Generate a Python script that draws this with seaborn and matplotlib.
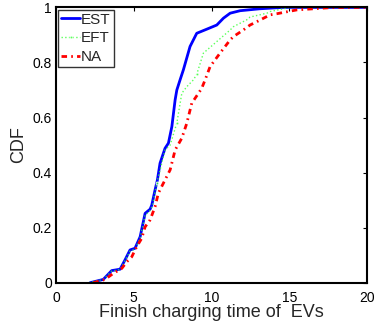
import matplotlib
matplotlib.use("Agg")
import matplotlib.pyplot as plt
import seaborn as sns
import pandas as pd

# traced CDF curves
est_x = [2.19, 3.04, 3.58, 4.12, 4.44, 4.76, 5.08, 5.41, 5.73, 6.05, 6.16, 6.37, 6.52, 6.69,
         7.01, 7.23, 7.45, 7.66, 7.77, 7.98, 8.19, 8.62, 9.05, 9.70, 10.34, 10.77, 11.2, 11.84,
         13.1, 14.6, 20.0]
est_y = [0.0, 0.012, 0.044, 0.049, 0.083, 0.119, 0.125, 0.167, 0.252, 0.267, 0.282, 0.337,
         0.373, 0.434, 0.488, 0.507, 0.567, 0.664, 0.70, 0.737, 0.773, 0.858, 0.906, 0.921,
         0.936, 0.961, 0.979, 0.988, 0.995, 1.0, 1.0]

eft_x = [2.1, 3.04, 3.58, 4.12, 4.44, 4.76, 5.08, 5.41, 5.73, 6.05, 6.2, 6.48, 7.01, 7.34,
         7.77, 8.09, 8.41, 8.84, 9.05, 9.48, 10.34, 11.2, 11.41, 12.27, 12.48, 13.56, 13.77,
         15.06, 20.0]
eft_y = [0.0, 0.012, 0.042, 0.048, 0.08, 0.115, 0.122, 0.162, 0.245, 0.262, 0.28, 0.361,
         0.482, 0.50, 0.58, 0.688, 0.712, 0.737, 0.757, 0.834, 0.876, 0.918, 0.93, 0.955,
         0.965, 0.979, 0.985, 1.0, 1.0]

na_x = [2.4, 3.15, 3.69, 4.23, 4.55, 4.87, 5.19, 5.51, 5.73, 6.05, 6.37, 6.58, 6.9, 7.34,
        7.66, 8.09, 8.41, 8.73, 9.16, 9.37, 9.59, 9.91, 10.55, 11.2, 11.41, 12.05, 12.48,
        12.91, 13.77, 14.2, 15.49, 17.6, 18.2, 20.0]
na_y = [0.0, 0.012, 0.034, 0.052, 0.076, 0.094, 0.131, 0.161, 0.203, 0.228, 0.276, 0.325,
        0.361, 0.41, 0.482, 0.525, 0.579, 0.652, 0.688, 0.706, 0.737, 0.785, 0.834, 0.882,
        0.894, 0.918, 0.936, 0.948, 0.973, 0.977, 0.991, 0.999, 1.0, 1.0]

x_ticks = [0, 5, 10, 15, 20]
y_ticks = [0, 0.2, 0.4, 0.6, 0.8, 1.0]
y_tick_labels = ["0", "0.2", "0.4", "0.6", "0.8", "1"]

sns.set_style("white")
plt.rcParams['font.family'] = ['Liberation Sans', 'DejaVu Sans']

fig = plt.figure(figsize=(3.76, 3.22), dpi=100)
ax = fig.add_axes([0.149, 0.122, 0.827, 0.855])

df_est = pd.DataFrame({"x": est_x, "y": est_y})
df_eft = pd.DataFrame({"x": eft_x, "y": eft_y})
df_na = pd.DataFrame({"x": na_x, "y": na_y})

sns.lineplot(data=df_est, x="x", y="y", ax=ax, sort=False, color="#0000ff", lw=2.0,
             label="EST", estimator=None)
sns.lineplot(data=df_eft, x="x", y="y", ax=ax, sort=False, color="#33ff33", lw=1.0,
             linestyle=":", label="EFT", estimator=None, marker=".", markersize=4,
             markevery=[11, 14, 18], alpha=0.8)
sns.lineplot(data=df_na, x="x", y="y", ax=ax, sort=False, color="#ff0000", lw=2.0,
             label="NA", estimator=None)
ax.lines[-1].set_dashes([2, 1.5, 0.6, 1.5])

ax.set_xlim(0, 20)
ax.set_ylim(0, 1)
ax.set_xticks(x_ticks)
ax.set_xticklabels([str(t) for t in x_ticks])
ax.set_yticks(y_ticks)
ax.set_yticklabels(y_tick_labels)
ax.tick_params(direction="in", length=3, width=0.8, top=True, right=True,
               labelsize=10, colors="black")
ax.tick_params(axis="x", pad=6)
ax.tick_params(axis="y", pad=3)
for s in ax.spines.values():
    s.set_visible(True)
    s.set_color("black")
    s.set_linewidth(1.5)

ax.set_xlabel("Finish charging time of  EVs", fontsize=13, labelpad=-1)
ax.set_ylabel("CDF", fontsize=13, labelpad=4)

leg = ax.legend(loc="upper left", fontsize=11, frameon=True, fancybox=False,
                borderaxespad=0.15, borderpad=0.2, handlelength=1.2, handletextpad=0.1,
                labelspacing=0.3)
leg.get_frame().set_edgecolor("black")
leg.get_frame().set_linewidth(1.0)

fig.savefig("out.png", dpi=100)
